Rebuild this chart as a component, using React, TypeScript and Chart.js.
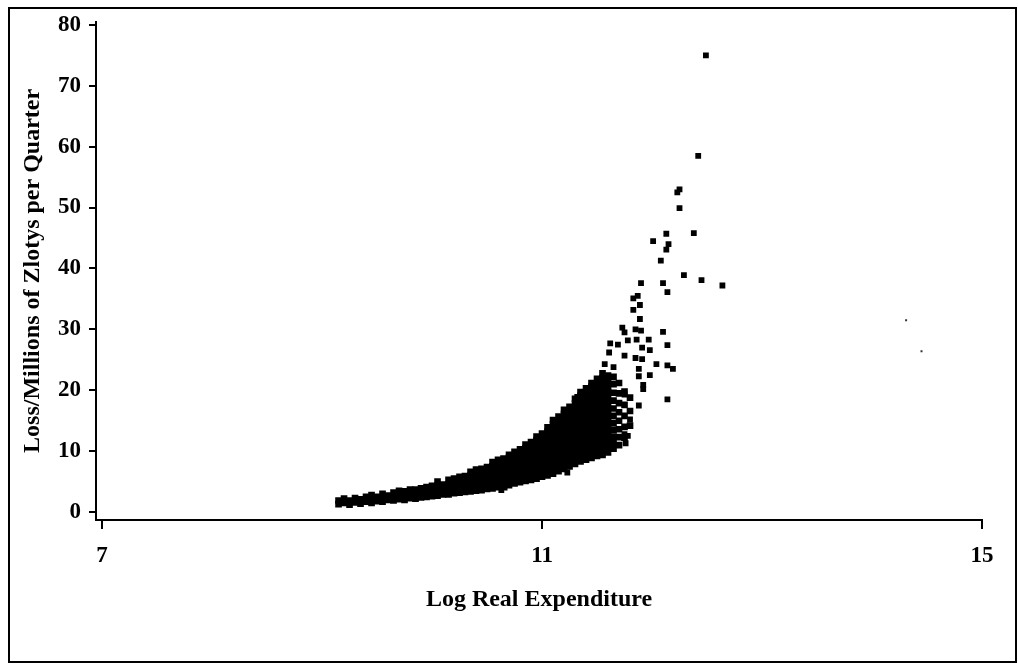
import { useEffect, useRef } from "react";
import { Chart, registerables } from "chart.js";

Chart.register(...registerables);

// Axis ticks
const xTicks = [7, 11, 15];
const yTicks = [0, 10, 20, 30, 40, 50, 60, 70, 80];

// Dense cloud, read column by column: [log real expenditure, losses at that x]
const tailColumns: [number, number[]][] = [
  [9.15, [1.3, 1.9]],
  [9.2, [1.5, 2.2]],
  [9.25, [1.2, 1.9]],
  [9.3, [1.6, 2.3]],
  [9.35, [1.4, 2.1]],
  [9.4, [1.7, 2.5]],
  [9.45, [1.5, 2.2, 2.8]],
  [9.5, [1.8, 2.5]],
  [9.55, [1.7, 2.4, 3.0]],
  [9.6, [2.0, 2.7]],
  [9.65, [1.9, 2.6, 3.2]],
  [9.7, [2.1, 2.8, 3.5]],
  [9.75, [2.0, 2.7, 3.4]],
  [9.8, [2.3, 3.0, 3.7]],
  [9.85, [2.2, 2.9, 3.7]],
  [9.9, [2.4, 3.1, 3.9]],
  [9.95, [2.5, 3.3, 4.1]],
  [10.0, [2.6, 3.4, 4.3]],
];

const bandColumns: [number, number[]][] = [
  [10.05, [2.7, 3.5, 4.3, 5.0]],
  [10.1, [2.9, 3.7, 4.5]],
  [10.15, [2.9, 3.7, 4.5, 5.3]],
  [10.2, [3.1, 3.9, 4.7, 5.5]],
  [10.25, [3.2, 4.0, 4.8, 5.8]],
  [10.3, [3.3, 4.1, 5.0, 5.9]],
  [10.35, [3.4, 4.2, 5.1, 6.0, 6.6]],
  [10.4, [3.5, 4.4, 5.3, 6.2, 7.0]],
  [10.45, [3.6, 4.5, 5.4, 6.3, 7.1]],
  [10.5, [3.8, 4.7, 5.6, 6.5, 7.4]],
  [10.55, [3.9, 4.8, 5.7, 6.6, 7.5, 8.2]],
  [10.6, [4.1, 5.0, 5.9, 6.8, 7.7, 8.6]],
  [10.65, [4.3, 5.2, 6.1, 7.0, 7.9, 8.8]],
  [10.7, [4.4, 5.3, 6.2, 7.1, 8.0, 8.9, 9.4]],
  [10.75, [4.7, 5.6, 6.5, 7.4, 8.3, 9.2, 9.9]],
];

const coreColumns: [number, number[]][] = [
  [10.8, [4.9, 5.8, 6.7, 7.6, 8.5, 9.4, 10.3]],
  [10.85, [5.1, 6.0, 6.9, 7.8, 8.7, 9.6, 10.5, 11.1]],
  [10.9, [5.3, 6.2, 7.1, 8.0, 8.9, 9.8, 10.7, 11.5]],
  [10.95, [5.5, 6.4, 7.3, 8.2, 9.1, 10.0, 10.9, 11.8, 12.4]],
  [11.0, [5.8, 6.7, 7.6, 8.5, 9.4, 10.3, 11.2, 12.1, 12.9]],
  [11.05, [6.0, 6.9, 7.8, 8.7, 9.6, 10.5, 11.4, 12.3, 13.2, 13.9]],
  [11.1, [6.3, 7.2, 8.1, 9.0, 9.9, 10.8, 11.7, 12.6, 13.5, 14.4, 15.1]],
  [11.15, [6.7, 7.6, 8.5, 9.4, 10.3, 11.2, 12.1, 13.0, 13.9, 14.8, 15.7]],
  [11.2, [7.1, 8.0, 8.9, 9.8, 10.7, 11.6, 12.5, 13.4, 14.3, 15.2, 16.1, 16.8]],
  [11.25, [7.5, 8.4, 9.3, 10.2, 11.1, 12.0, 12.9, 13.8, 14.7, 15.6, 16.5, 17.3]],
  [11.3, [7.9, 8.8, 9.7, 10.6, 11.5, 12.4, 13.3, 14.2, 15.1, 16.0, 16.9, 17.8, 18.6]],
  [11.35, [8.3, 9.2, 10.1, 11.0, 11.9, 12.8, 13.7, 14.6, 15.5, 16.4, 17.3, 18.2, 19.1, 19.7]],
  [11.4, [8.6, 9.5, 10.4, 11.3, 12.2, 13.1, 14.0, 14.9, 15.8, 16.7, 17.6, 18.5, 19.4, 20.3]],
  [11.45, [8.9, 9.8, 10.7, 11.6, 12.5, 13.4, 14.3, 15.2, 16.1, 17.0, 17.9, 18.8, 19.7, 20.6, 21.2]],
  [11.5, [9.2, 10.1, 11.0, 11.9, 12.8, 13.7, 14.6, 15.5, 16.4, 17.3, 18.2, 19.1, 20.0, 20.9, 21.9]],
  [11.55, [9.4, 10.3, 11.2, 12.1, 13.0, 13.9, 14.8, 15.7, 16.6, 17.5, 18.4, 19.3, 20.2, 21.1, 22.0, 22.8]],
  [11.6, [9.8, 10.7, 11.6, 12.5, 13.4, 14.3, 15.2, 16.1, 17.0, 17.9, 18.8, 19.7, 20.6, 21.5, 22.4]],
  [11.65, [10.4, 11.4, 12.4, 13.5, 14.6, 15.8, 17.0, 18.3, 19.6, 21.0, 22.2]],
  [11.7, [11.0, 12.3, 13.6, 15.0, 16.4, 17.9, 19.5, 21.2]],
  [11.75, [12.2, 14.0, 15.8, 17.6, 19.8]],
  [11.8, [14.2, 16.6, 18.8]],
];

// Individually visible points around and above the cloud
const scatterPoints: [number, number][] = [
  [12.49, 75.0], [12.42, 58.5], [12.25, 53.0], [12.23, 52.5], [12.25, 49.9],
  [12.13, 45.7], [12.38, 45.8], [12.01, 44.5], [12.15, 44.0], [12.13, 43.1],
  [12.08, 41.3], [12.29, 38.9], [12.45, 38.1], [12.64, 37.2], [11.9, 37.6],
  [12.1, 37.6], [12.14, 36.1], [11.83, 35.1], [11.87, 35.5], [11.89, 34.0],
  [11.83, 33.2], [11.89, 31.7], [11.73, 30.3], [11.75, 29.5], [11.85, 30.0],
  [11.9, 29.8], [12.1, 29.6], [11.62, 27.7], [11.69, 27.5], [11.78, 28.2],
  [11.86, 28.3], [11.97, 28.3], [11.91, 27.0], [11.98, 26.6], [12.14, 27.4],
  [11.61, 26.2], [11.75, 25.7], [11.85, 25.3], [11.91, 25.1], [12.04, 24.3],
  [12.14, 24.1], [12.19, 23.5], [11.57, 24.3], [11.65, 23.8], [11.88, 23.5],
  [11.98, 22.5], [11.88, 22.3], [11.92, 20.9], [11.92, 20.2], [12.14, 18.5],
  [11.75, 19.3], [11.32, 18.9], [11.88, 17.5], [11.8, 15.2], [11.75, 12.8],
  [11.78, 12.5], [11.76, 11.3], [11.55, 9.6], [11.59, 11.3], [11.23, 6.5],
  [11.13, 7.1], [10.66, 4.0], [10.63, 3.6],
];

// Faint specks far to the right
const speckPoints: [number, number][] = [
  [14.31, 31.5], [14.45, 26.4],
];

const FONT = '"Liberation Serif", "Times New Roman", serif';

function flatten(cols: [number, number[]][]) {
  const out: { x: number; y: number }[] = [];
  cols.forEach(([x, ys]) => ys.forEach((y) => out.push({ x, y })));
  return out;
}

export default function App() {
  const ref = useRef<HTMLCanvasElement>(null);

  useEffect(() => {
    if (!ref.current) return;
    const toXY = (pts: [number, number][]) => pts.map(([x, y]) => ({ x, y }));
    const dense = [...flatten(tailColumns), ...flatten(bandColumns), ...flatten(coreColumns)];
    const chart = new Chart(ref.current, {
      type: "scatter",
      data: {
        datasets: [
          {
            data: dense,
            pointStyle: "rect",
            pointRadius: 4.7,
            backgroundColor: "#000",
            borderWidth: 0,
          },
          {
            data: toXY(scatterPoints),
            pointStyle: "rect",
            pointRadius: 4.1,
            backgroundColor: "#000",
            borderWidth: 0,
          },
          {
            data: toXY(speckPoints),
            pointStyle: "rect",
            pointRadius: 1.4,
            backgroundColor: "#333",
            borderWidth: 0,
          },
        ],
      },
      options: {
        responsive: false,
        animation: false,
        devicePixelRatio: 1,
        layout: { padding: { top: 15, right: 36, left: 0, bottom: 0 } },
        plugins: {
          legend: { display: false },
          tooltip: { enabled: false },
        },
        elements: { point: { hoverRadius: 0 } },
        scales: {
          x: {
            type: "linear",
            min: 6.945,
            max: 15,
            afterBuildTicks: (s: any) => {
              s.ticks = xTicks.map((v) => ({ value: v }));
            },
            afterFit: (s: any) => {
              s.height = 145;
            },
            grid: {
              display: true,
              drawOnChartArea: false,
              drawTicks: true,
              tickLength: 9,
              color: "#000",
              lineWidth: 2,
            },
            border: { display: true, color: "#000", width: 2 },
            ticks: {
              color: "#000",
              padding: 13,
              maxRotation: 0,
              autoSkip: false,
              font: { family: FONT, size: 23, weight: "bold" },
            },
            title: {
              display: true,
              text: "Log Real Expenditure",
              color: "#000",
              font: { family: FONT, size: 24, weight: "bold" },
              padding: { top: 0, bottom: 51 },
            },
          },
          y: {
            type: "linear",
            min: -1.3,
            max: 80.5,
            afterBuildTicks: (s: any) => {
              s.ticks = yTicks.map((v) => ({ value: v }));
            },
            afterFit: (s: any) => {
              s.width = 96;
            },
            grid: {
              display: true,
              drawOnChartArea: false,
              drawTicks: true,
              tickLength: 7,
              color: "#000",
              lineWidth: 2,
            },
            border: { display: true, color: "#000", width: 2 },
            ticks: {
              color: "#000",
              padding: 8,
              autoSkip: false,
              font: { family: FONT, size: 23, weight: "bold" },
            },
            title: {
              display: true,
              text: "Loss/Millions of Zlotys per Quarter",
              color: "#000",
              font: { family: FONT, size: 24, weight: "bold" },
              padding: { top: 18, bottom: 0 },
            },
          },
        },
      },
    } as any);
    return () => chart.destroy();
  }, []);

  return (
    <div style={{ position: "absolute", left: 0, top: 0, width: 1018, height: 665, background: "#fff" }}>
      <canvas ref={ref} width={1018} height={665} style={{ position: "absolute", left: 0, top: 0 }} />
      <div
        style={{
          position: "absolute",
          left: 8,
          top: 7,
          width: 1009,
          height: 656,
          border: "2px solid #000",
          boxSizing: "border-box",
          pointerEvents: "none",
        }}
      />
    </div>
  );
}
